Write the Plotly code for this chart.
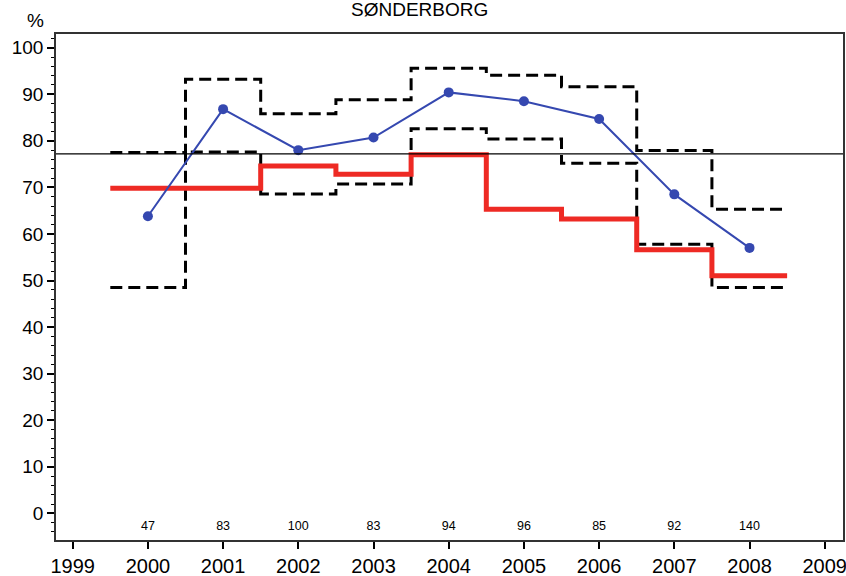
import plotly.graph_objects as go

years = [2000, 2001, 2002, 2003, 2004, 2005, 2006, 2007, 2008]
observed = [63.8, 86.8, 78.0, 80.7, 90.4, 88.5, 84.7, 68.5, 57.0]
expected = [69.8, 69.8, 74.6, 72.8, 77.0, 65.3, 63.2, 56.6, 51.0]
upper = [77.5, 93.2, 85.8, 88.8, 95.6, 94.1, 91.6, 77.9, 65.3]
lower = [48.5, 77.6, 68.6, 70.7, 82.6, 80.4, 75.2, 57.8, 48.5]
counts = ["47", "83", "100", "83", "94", "96", "85", "92", "140"]
reference_level = 77.2
count_label_y = -2.9
title = "SØNDERBORG"
x_ticks = list(range(1999, 2010))
y_ticks = list(range(0, 101, 10))

FONT = "Liberation Sans, Arial, sans-serif"
L, R, T, B = 56, 3, 34, 36
PW, PH = 846 - L - R, 576 - T - B


def step_xy(xs, ys):
    ex = [x - 0.5 for x in xs] + [xs[-1] + 0.5]
    ey = list(ys) + [ys[-1]]
    return ex, ey


fig = go.Figure()

for band in (upper, lower):
    sx, sy = step_xy(years, band)
    fig.add_trace(go.Scatter(x=sx, y=sy, mode="lines", line_shape="hv",
                             line=dict(color="black", width=3, dash="12px,6px"),
                             hoverinfo="skip", showlegend=False))

ex, ey = step_xy(years, expected)
fig.add_trace(go.Scatter(x=ex, y=ey, mode="lines", line_shape="hv",
                         line=dict(color="#ee2a24", width=5),
                         showlegend=False))

fig.add_trace(go.Scatter(x=years, y=observed, mode="lines+markers",
                         line=dict(color="#3548b0", width=2),
                         marker=dict(color="#3548b0", size=10),
                         showlegend=False))

fig.add_trace(go.Scatter(x=years, y=[count_label_y] * len(years), mode="text",
                         text=counts, textfont=dict(family=FONT, size=12.5, color="black"),
                         hoverinfo="skip", showlegend=False))

fig.add_hline(y=reference_level, line=dict(color="black", width=1.3))

fig.update_layout(
    width=846, height=576,
    margin=dict(l=L, r=R, t=T, b=B, autoexpand=False),
    paper_bgcolor="white", plot_bgcolor="white",
    font=dict(family=FONT, color="black"),
    showlegend=False,
)
fig.add_annotation(text=title, xref="paper", yref="paper", x=(419 - L) / PW,
                   y=1 + (T - 9) / PH, showarrow=False, xanchor="center", yanchor="middle",
                   font=dict(size=19, family=FONT))
fig.add_annotation(text="%", xref="paper", yref="paper", x=(35 - L) / PW,
                   y=1 + (T - 21) / PH, showarrow=False, xanchor="center", yanchor="middle",
                   font=dict(size=19, family=FONT))

fig.update_xaxes(range=[1998.778, 2009.243], tickvals=x_ticks,
                 ticktext=[str(t) for t in x_ticks], automargin=False,
                 ticklabeloverflow="allow",
                 ticks="outside", ticklen=7, tickwidth=1.5, tickcolor="black",
                 showline=True, linecolor="#333", linewidth=1.5, mirror=True,
                 showgrid=False, zeroline=False,
                 tickfont=dict(size=20, family=FONT))
fig.update_yaxes(range=[-5.73, 102.94], tickvals=y_ticks, automargin=False,
                 ticks="outside", ticklen=7, tickwidth=1.5, tickcolor="black",
                 minor=dict(dtick=2, ticks="outside", ticklen=3, tickcolor="black", tickwidth=1),
                 showline=True, linecolor="#333", linewidth=1.5, mirror=True,
                 showgrid=False, zeroline=False,
                 tickfont=dict(size=19, family=FONT))

fig.write_html("out.html", config={"displayModeBar": False},
               post_script="document.body.style.margin='0';document.body.style.overflow='hidden';")
